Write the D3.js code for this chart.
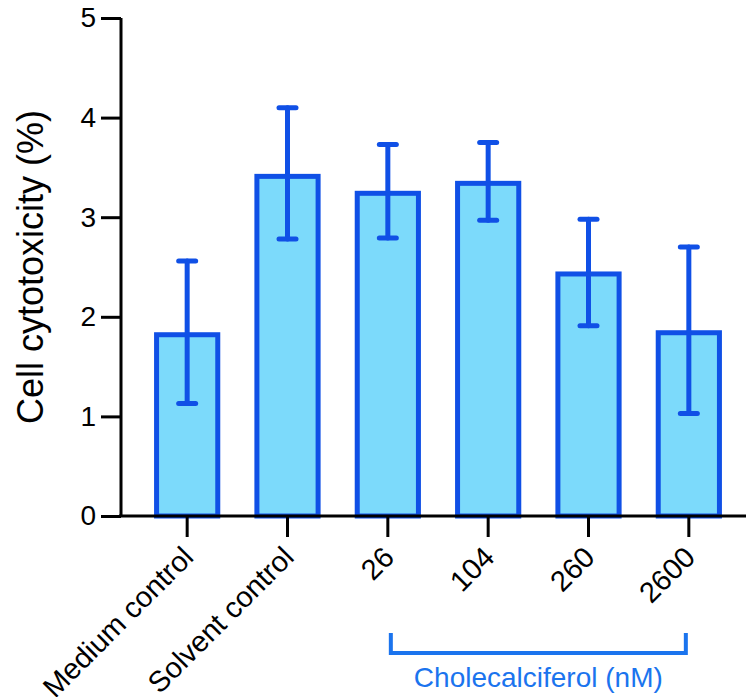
<!DOCTYPE html>
<html>
<head>
<meta charset="utf-8">
<script src="https://cdn.jsdelivr.net/npm/d3@7"></script>
<style>
  body { margin: 0; background: #fff; }
  text { font-family: "Liberation Sans", Arial, sans-serif; }
</style>
</head>
<body>
<div id="chart"></div>
<script>
// data
var categories = ['Medium control', 'Solvent control', '26', '104', '260', '2600'];
var means = [1.82, 3.41, 3.24, 3.34, 2.43, 1.84];
var errHigh = [2.56, 4.10, 3.73, 3.75, 2.98, 2.70];
var errLow = [1.13, 2.78, 2.79, 2.97, 1.91, 1.03];
var yTicks = [0, 1, 2, 3, 4, 5];
var groupLabel = 'Cholecalciferol (nM)';
var groupMembers = ['26', '2600'];

var width = 748, height = 697;
var barColor = '#7cdafb', lineColor = '#1050e6', groupColor = '#1b74ee';

var svg = d3.select('#chart').append('svg')
	.attr('width', width)
	.attr('height', height);

var x = d3.scaleBand().domain(categories).range([137, 739]).padding(0);
var y = d3.scaleLinear().domain([0, 5]).range([516, 18]);
var barW = x.bandwidth() * 0.61;

// bars
svg.selectAll('rect.bar').data(categories)
	.enter().append('rect')
	.attr('class', 'bar')
	.attr('x', function(d){ return x(d) + (x.bandwidth() - barW) / 2; })
	.attr('y', function(d, i){ return y(means[i]); })
	.attr('width', barW)
	.attr('height', function(d, i){ return y(0) - y(means[i]); })
	.style('fill', barColor)
	.style('stroke', lineColor)
	.style('stroke-width', 5);

// error bars
var cx = function(d){ return x(d) + x.bandwidth() / 2; };
var eb = svg.selectAll('g.err').data(categories).enter().append('g')
	.attr('class', 'err')
	.style('stroke', lineColor)
	.style('stroke-width', 5)
	.style('stroke-linecap', 'round');
eb.append('line')
	.attr('x1', cx).attr('x2', cx)
	.attr('y1', function(d, i){ return y(errHigh[i]); })
	.attr('y2', function(d, i){ return y(errLow[i]); });
eb.append('line')
	.attr('x1', function(d){ return cx(d) - 8.5; })
	.attr('x2', function(d){ return cx(d) + 8.5; })
	.attr('y1', function(d, i){ return y(errHigh[i]); })
	.attr('y2', function(d, i){ return y(errHigh[i]); });
eb.append('line')
	.attr('x1', function(d){ return cx(d) - 8.5; })
	.attr('x2', function(d){ return cx(d) + 8.5; })
	.attr('y1', function(d, i){ return y(errLow[i]); })
	.attr('y2', function(d, i){ return y(errLow[i]); });

// y axis
var yAxis = svg.append('g')
	.attr('transform', 'translate(121,0)')
	.call(d3.axisLeft(y).tickValues(yTicks).tickSize(20).tickPadding(5).tickFormat(d3.format('d')));
yAxis.select('.domain').attr('d', 'M0,' + y(5) + 'V' + y(0));
yAxis.selectAll('path, line').style('stroke', '#000').style('stroke-width', 3);
yAxis.selectAll('text').style('font-size', '28px').style('fill', '#000')
	.style('font-family', '"Liberation Sans", Arial, sans-serif');

// x axis
var xAxis = svg.append('g')
	.attr('transform', 'translate(0,' + y(0) + ')')
	.call(d3.axisBottom(x).tickSize(21).tickFormat(''));
xAxis.select('.domain').attr('d', 'M119,0H746');
xAxis.selectAll('path, line').style('stroke', '#000').style('stroke-width', 3);

svg.selectAll('text.xlab').data(categories).enter().append('text')
	.attr('class', 'xlab')
	.attr('transform', function(d){ return 'translate(' + (cx(d) + 8) + ',559) rotate(-45)'; })
	.attr('text-anchor', 'end')
	.style('font-size', '29px')
	.style('fill', '#000')
	.text(function(d){ return d; });

// y label
svg.append('text')
	.attr('transform', 'translate(43,' + ((y(0) + y(5)) / 2) + ') rotate(-90)')
	.attr('text-anchor', 'middle')
	.style('font-size', '36px')
	.style('fill', '#000')
	.text('Cell cytotoxicity (%)');

// group bracket
var gx0 = cx(groupMembers[0]) + 3, gx1 = cx(groupMembers[1]) - 3;
svg.append('path')
	.attr('d', 'M' + gx0 + ',633V653H' + gx1 + 'V633')
	.style('fill', 'none')
	.style('stroke', groupColor)
	.style('stroke-width', 4);
svg.append('text')
	.attr('x', (gx0 + gx1) / 2)
	.attr('y', 687)
	.attr('text-anchor', 'middle')
	.style('font-size', '28px')
	.style('fill', groupColor)
	.text(groupLabel);
</script>
</body>
</html>
